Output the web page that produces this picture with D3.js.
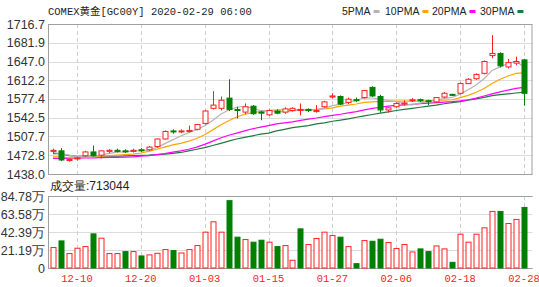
<!DOCTYPE html>
<html>
<head>
<meta charset="utf-8">
<script src="https://cdn.jsdelivr.net/npm/d3@7"></script>
<style>
  body { margin: 0; background: #fff; }
  svg text { font-family: "Liberation Sans", Arial, sans-serif; }
  .mono { font-family: "Liberation Mono", "DejaVu Sans Mono", "Noto Sans CJK SC", monospace; }
</style>
</head>
<body>
<div id="chart"></div>
<script>
// trading days shown (MM-DD)
const dates = [
  "12-05","12-06","12-09","12-10","12-11","12-12","12-13","12-16","12-17","12-18",
  "12-19","12-20","12-23","12-24","12-26","12-27","12-30","12-31","01-02","01-03",
  "01-06","01-07","01-08","01-09","01-10","01-13","01-14","01-15","01-16","01-17",
  "01-20","01-21","01-22","01-23","01-24","01-27","01-28","01-29","01-30","01-31",
  "02-03","02-04","02-05","02-06","02-07","02-10","02-11","02-12","02-13","02-14",
  "02-17","02-18","02-19","02-20","02-21","02-24","02-25","02-26","02-27","02-28"
];

// daily candles
const opens  = [1480,1481,1463,1466,1472,1479,1473,1480,1482,1481, 1480,1483,1483,1489,1503,1518,1517,1517,1521,1532,
                1560,1560,1579,1558,1553,1564,1553,1548,1555,1553, 1556,1557,1558,1554,1563,1581,1582,1571,1576,1580,
                1599,1582,1557,1563,1568,1575,1576,1574,1572,1581, 1586,1588,1606,1615,1625,1658,1662,1637,1644,1650];
const highs  = [1485,1486,1467,1470,1481,1491,1482,1484,1485,1484, 1485,1486,1490,1504,1519,1521,1521,1528,1531,1557,
                1592,1582,1614,1563,1569,1566,1555,1558,1558,1562, 1562,1569,1560,1566,1574,1588,1584,1580,1580,1594,
                1601,1585,1562,1571,1575,1579,1578,1576,1581,1590, 1587,1608,1616,1625,1649,1696,1664,1652,1656,1652];
const lows   = [1477,1462,1461,1463,1470,1470,1467,1477,1478,1477, 1478,1479,1481,1487,1502,1513,1514,1515,1519,1530,
                1558,1556,1555,1541,1549,1548,1538,1546,1549,1550, 1554,1547,1553,1552,1561,1578,1566,1568,1572,1578,
                1581,1552,1552,1561,1565,1572,1572,1566,1570,1579, 1583,1586,1605,1613,1623,1653,1636,1634,1640,1565];
const closes = [1482,1464,1465,1468,1479,1472,1481,1482,1480,1480, 1482,1482,1488,1503,1517,1517,1518,1519,1530,1555,
                1566,1575,1558,1556,1563,1550,1551,1556,1551,1559, 1560,1558,1557,1556,1572,1583,1568,1577,1575,1593,
                1583,1557,1561,1569,1570,1576,1575,1573,1580,1588, 1585,1606,1614,1623,1647,1662,1639,1645,1647,1588];

// volume, in 万
const volumes = [24.1,31.9,17.0,23.3,25.2,40.2,35.1,17.0,17.0,19.3, 19.3,14.2,15.4,17.3,21.7,20.5,17.7,21.7,26.4,42.2,
                 54.4,42.2,79.3,36.3,33.5,30.4,32.7,30.4,25.2,26.4, 9.1,46.1,27.6,34.7,42.2,38.2,36.3,25.2,5.1,32.3,
                 31.5,33.9,30.0,22.9,27.6,18.9,22.5,19.3,26.0,22.5, 6.7,39.8,30.4,39.8,47.3,66.6,66.6,52.4,57.2,71.3];
const volUp = [1,0,1,1,1,0,1,1,1,0, 1,0,1,1,1,0,1,1,1,1, 1,1,0,0,1,0,0,1,0,1, 1,0,1,1,1,1,0,1,0,1,
               0,0,1,1,1,1,0,0,1,1, 0,1,1,1,1,1,0,1,1,0];

// moving averages
const ma5  = [1478,1476,1473,1470,1471.6,1469.6,1473,1476.4,1478.8,1479, 1481,1481.2,1482.4,1487,1494.4,1501.4,1508.6,1514.8,1520.2,1527.8,
              1537.6,1549,1556.8,1562,1563.6,1560.4,1555.6,1555.2,1554.2,1553.4, 1555.4,1556.6,1556.8,1557.8,1560.4,1565,1567.2,1571.2,1575,1579.2,
              1579.2,1577,1574.6,1572.6,1568,1566.6,1570.2,1572.6,1574.8,1578.4, 1580.2,1586.4,1594.6,1603.2,1615,1630.4,1637,1643.2,1648,1636.2];
const ma10 = [1470,1470,1468,1468,1469,1470,1471,1472,1473,1474, 1475,1477,1480,1484,1488,1492,1495,1499,1504,1511,
              1520,1529,1537,1544,1549,1552,1554,1556,1557,1557, 1557,1557,1557,1558,1559,1561,1564,1566,1568,1571,
              1572,1573,1573,1573.5,1573.5,1573.5,1573.5,1574,1575,1575, 1576,1580,1584,1590,1597,1606,1614,1620,1625,1626];
const ma20 = [1467,1467,1467,1467.5,1468,1468,1468.5,1469,1469,1469.5, 1470,1471,1472,1474,1476,1478.5,1481,1484,1488,1493,
              1499,1505,1510,1514,1518,1522,1525,1528,1531,1533, 1535,1537.5,1540,1542,1544.5,1547,1549,1551.5,1554,1557,
              1560,1562,1564,1565.5,1566.5,1567.5,1568.5,1569.5,1570.5,1571.5, 1572.5,1574,1576,1579,1583,1587,1590.5,1594,1597,1599];
const ma30 = [1476,1476,1472,1471,1471,1471,1471,1471,1471,1471.5, 1472,1472.5,1473,1474,1475,1476.5,1478,1481,1484,1487,
              1491,1495,1499,1503,1506,1509,1512,1514,1518,1521, 1524,1526,1528,1531,1533,1536,1538,1540.5,1543.5,1546,
              1548.5,1551,1553.5,1556,1558,1560,1562,1564,1566,1568.5, 1570.5,1572.5,1575,1577.5,1580.5,1583.5,1585.5,1587,1588.5,1590];

const priceTicks = [1438.0,1472.8,1507.7,1542.5,1577.4,1612.2,1647.0,1681.9,1716.7];
const volTicks = [0,21.19,42.39,63.58,84.78];
const dateTicks = ["12-10","12-20","01-03","01-15","01-27","02-06","02-18","02-28"];
const maNames = ["5PMA","10PMA","20PMA","30PMA"];
const maColors = ["#b4b4b4","#ffa500","#ff00ff","#1f7a40"];
const lastVolume = "713044";

const W = 539, H = 287;
const pLeft = 48, pRight = 532.5;
const pTop = 24, pBottom = 174;
const vTop = 196, vBottom = 268;
const upColor = "#ff2020", downColor = "#008000";

const svg = d3.select("#chart").append("svg")
  .attr("width", W).attr("height", H);

const x = d3.scaleBand().domain(d3.range(dates.length)).range([49, 528]);
const xc = i => x(i) + x.bandwidth() / 2;
const y = d3.scaleLinear().domain([1438.0, 1716.7]).range([pBottom, pTop]);
const yv = d3.scaleLinear().domain([0, 84.78]).range([vBottom, vTop]);

// ---- grids ----
const grid = svg.append("g");
grid.selectAll(".hg").data(priceTicks).enter().append("line")
  .attr("x1", pLeft).attr("x2", pRight)
  .attr("y1", d => Math.round(y(d)) + 0.5).attr("y2", d => Math.round(y(d)) + 0.5)
  .attr("stroke", "#dcdcdc");
grid.selectAll(".vg").data(volTicks).enter().append("line")
  .attr("x1", pLeft).attr("x2", pRight)
  .attr("y1", d => Math.round(yv(d)) + 0.5).attr("y2", d => Math.round(yv(d)) + 0.5)
  .attr("stroke", "#dcdcdc");

const tickIdx = dateTicks.map(t => dates.indexOf(t));
[[pTop, pBottom], [vTop, vBottom]].forEach(([t, b]) => {
  grid.selectAll(null).data(tickIdx).enter().append("line")
    .attr("x1", d => Math.round(xc(d)) + 0.5).attr("x2", d => Math.round(xc(d)) + 0.5)
    .attr("y1", t).attr("y2", b)
    .attr("stroke", "#cfcfcf").attr("stroke-dasharray", "4,3");
});

// frames
svg.append("rect").attr("x", pLeft + 0.5).attr("y", pTop + 0.5)
  .attr("width", pRight - pLeft - 1).attr("height", pBottom - pTop)
  .attr("fill", "none").attr("stroke", "#a0a0a0");
svg.append("path")
  .attr("d", `M${pLeft + 0.5},${vTop + 0.5}H${pRight}M${pLeft + 0.5},${vTop}V${vBottom + 0.5}H${pRight}`)
  .attr("fill", "none").attr("stroke", "#a0a0a0");

// ---- axis labels ----
svg.append("g").selectAll("text").data(priceTicks).enter().append("text")
  .attr("x", 45).attr("y", d => y(d)).attr("dy", "0.36em")
  .attr("text-anchor", "end").attr("font-size", 12.5).attr("fill", "#333")
  .text(d => d.toFixed(1));
svg.append("g").selectAll("text").data(volTicks).enter().append("text")
  .attr("x", 45).attr("y", d => yv(d)).attr("dy", "0.36em")
  .attr("text-anchor", "end").attr("font-size", 12.5).attr("fill", "#333")
  .text(d => d === 0 ? "0" : d.toFixed(2) + "万");
svg.append("g").selectAll("text").data(tickIdx).enter().append("text")
  .attr("class", "mono")
  .attr("x", d => xc(d)).attr("y", 282)
  .attr("text-anchor", "middle").attr("font-size", 10.5).attr("fill", "#ff2020")
  .text(d => dates[d]);

// ---- title + legend ----
svg.append("text").attr("class", "mono")
  .attr("x", 48).attr("y", 15).attr("font-size", 10.5).attr("fill", "#222")
  .text("COMEX黄金[GC00Y] 2020-02-29 06:00");

const legend = svg.append("g").attr("class", "mono");
const legX = [342, 385, 432, 480];
maNames.forEach((n, i) => {
  const t = legend.append("text").attr("x", legX[i]).attr("y", 15)
    .attr("font-size", 10.5).attr("fill", "#222").text(n);
  const w = t.node().getComputedTextLength();
  legend.append("rect").attr("x", legX[i] + w + 3).attr("y", 10)
    .attr("width", 6).attr("height", 3).attr("fill", maColors[i]);
});

svg.append("text").attr("x", 50).attr("y", 190)
  .attr("font-size", 12).attr("fill", "#222")
  .text("成交量:" + lastVolume);

// ---- MA lines ----
const line = d3.line().x((d, i) => xc(i)).y(d => y(d));
[ma30, ma20, ma10, ma5].forEach((arr, k) => {
  svg.append("path").datum(arr)
    .attr("d", line).attr("fill", "none")
    .attr("stroke", maColors[3 - k]).attr("stroke-width", 1.2);
});

// ---- candles ----
const bw = 5;
const candles = svg.append("g").selectAll("g").data(dates).enter().append("g");
candles.each(function (d, i) {
  const g = d3.select(this);
  const up = closes[i] >= opens[i];
  const col = up ? upColor : downColor;
  const cx = Math.round(xc(i)) + 0.5;
  const yTop = y(Math.max(opens[i], closes[i]));
  const yBot = y(Math.min(opens[i], closes[i]));
  g.append("line").attr("x1", cx).attr("x2", cx)
    .attr("y1", y(highs[i])).attr("y2", yTop).attr("stroke", col);
  g.append("line").attr("x1", cx).attr("x2", cx)
    .attr("y1", yBot).attr("y2", y(lows[i])).attr("stroke", col);
  g.append("rect")
    .attr("x", cx - bw / 2).attr("y", yTop)
    .attr("width", bw).attr("height", Math.max(1, yBot - yTop))
    .attr("fill", up ? "#fff" : downColor)
    .attr("stroke", col);
});

// ---- volume bars ----
svg.append("g").selectAll("rect").data(volumes).enter().append("rect")
  .attr("x", (d, i) => Math.round(xc(i)) - 2)
  .attr("y", d => yv(d))
  .attr("width", 5)
  .attr("height", d => vBottom - yv(d))
  .attr("fill", (d, i) => volUp[i] ? "#fff" : downColor)
  .attr("stroke", (d, i) => volUp[i] ? upColor : downColor);
</script>
</body>
</html>
